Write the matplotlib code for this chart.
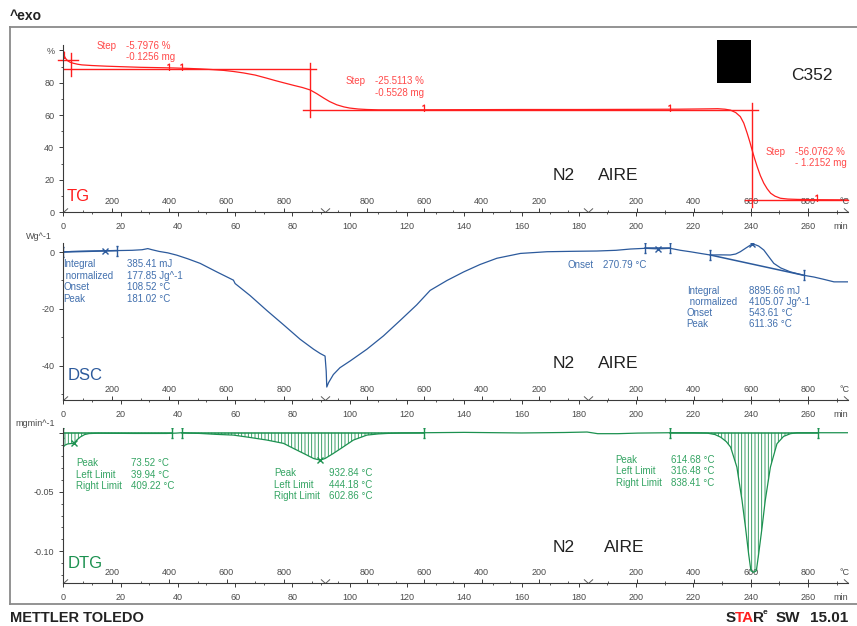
import numpy as np
import matplotlib
matplotlib.use("Agg")
import matplotlib.pyplot as plt
from matplotlib.path import Path
from matplotlib.patches import Rectangle
from matplotlib.lines import Line2D
from matplotlib.ticker import MultipleLocator

plt.rcParams['font.family'] = ['Liberation Sans', 'DejaVu Sans']
plt.rcParams['hatch.linewidth'] = 0.6

# temperature program (segment ends in min, temperatures in °C)
prog_t = [0, 91.5, 183.2, 274]
prog_T = [30, 945, 30, 940]
temp_major = [200, 400, 600, 800]
temp_minor = [100, 300, 500, 700, 900]

# TG curve (%)
tg_t = [0.2, 0.8, 1.5, 2.3, 3.5, 5.0, 6.5, 10.0, 15.0, 20.0, 27.0, 33.0, 38.5, 44.0, 48.0, 52.0,
        56.0, 59.5, 63.0, 67.0, 71.0, 74.0, 77.0, 80.5, 83.5, 86.2, 88.5, 91.0, 93.0, 95.5, 98.0,
        100.0, 103.0, 106.0, 110.0, 120.0, 140.0, 160.0, 180.0, 200.0, 215.0, 225.0, 228.5, 231.0,
        233.0, 234.8, 236.4, 237.6, 238.8, 239.7, 240.5, 241.4, 242.3, 243.4, 244.6, 245.8, 247.0,
        248.5, 250.4, 253.0, 256.3, 263.0, 274.0]
tg_v = [97.0, 95.0, 93.6, 92.7, 92.0, 91.4, 91.0, 90.6, 90.2, 89.9, 89.5, 89.3, 89.1, 88.8, 88.5, 88.1,
        87.6, 86.9, 86.0, 84.7, 82.8, 81.3, 79.9, 78.3, 77.0, 75.5, 73.2, 70.4, 68.3, 66.3, 65.0,
        64.3, 63.7, 63.4, 63.2, 63.2, 63.3, 63.4, 63.4, 63.5, 63.6, 63.8, 63.9, 63.6,
        63.0, 61.5, 59.0, 55.0, 48.7, 43.5, 38.4, 33.0, 28.0, 22.5, 17.8, 14.3, 11.6,
        9.8, 8.5, 8.0, 7.8, 7.6, 7.5]
step_t = [2.8, 86.2, 240.5]
step_lv = [94.0, 88.2, 63.1, 7.4]
step_pct = ['-5.7976 %', '-25.5113 %', '-56.0762 %']
step_mg = ['-0.1256 mg', '-0.5528 mg', '- 1.2152 mg']
tg_flags = [36.9, 41.4, 125.8, 211.7, 263.2]

# DSC curve (W/g)
dsc_t = [0, 3, 8, 13, 18.6, 24, 27.5, 29.5, 31.0, 33.5, 36.5, 39.6, 43.5, 47.8, 53.6, 59.4, 60.0,
         65.2, 71.1, 76.9, 82.7, 87.4, 89.7, 91.4, 91.8, 92.0, 92.6, 94.3, 96.6, 100.2, 106.0,
         111.8, 117.6, 123.4, 128.1, 134.0, 139.8, 145.5, 151.4, 159.6, 168.9, 178.0, 186.3,
         193.0, 198.0, 203.2, 207.6, 211.9, 215.5, 218.9, 222.5, 225.9, 229.5, 232.9, 234.8,
         236.4, 238.5, 240.5, 241.8, 242.8, 244.6, 246.3, 248.1, 250.5, 253.9, 258.6, 262.1,
         265.5, 269.1, 274.0]
dsc_v = [0.0, 0.2, 0.3, 0.4, 0.5, 0.6, 0.8, 1.2, 0.8, 0.2, -0.3, -1.1, -2.4, -4.0, -7.0, -9.9, -11.1,
         -15.3, -20.6, -25.6, -30.7, -34.2, -35.7, -36.6, -41.9, -47.5, -46.0, -43.1, -40.7, -38.3, -34.2,
         -29.5, -24.1, -18.6, -13.5, -10.0, -7.0, -4.4, -2.2, -0.5, 0.1, 0.25, 0.35,
         0.6, 1.05, 1.3, 1.1, 1.3, 0.6, 0.1, -0.5, -1.05, -1.0, -1.05, -0.7,
         0.1, 1.5, 2.8, 2.5, 2.1, 0.7, -1.6, -4.0, -5.6, -7.0, -8.2, -8.8,
         -9.6, -10.5, -10.5]
dsc_limits = [(0, 18.6), (203.2, 211.9), (225.9, 258.6)]
dsc_marks = [14.7, 207.6, 240.5]

# DTG curve (mg/min)
dtg_t = [0, 0.6, 1.5, 2.5, 3.7, 4.8, 6.0, 7.5, 9.0, 12.0, 18.0, 24.5, 30.0, 36.0, 39.5, 41.4, 44.0,
         47.8, 53.6, 59.4, 65.2, 71.1, 76.9, 80.4, 83.9, 87.4, 89.7, 91.4, 94.3, 97.8, 101.3, 106.0,
         110.0, 113.0, 118.0, 125.8, 140.0, 160.0, 175.0, 182.9, 186.6, 193.6, 200.6, 212.0, 220.0,
         224.8, 227.5, 229.5, 231.5, 233.0, 235.2, 237.0, 238.2, 239.3, 240.1, 241.1, 242.0, 242.8,
         244.0, 245.1, 246.9, 249.2, 251.5, 253.9, 256.2, 263.4, 274.0]
dtg_v = [-0.0120, -0.0105, -0.0095, -0.0092, -0.0090, -0.0060, -0.0035, -0.0015, -0.0007, -0.0004,
         -0.0005, -0.0006, -0.0006, -0.0006, -0.0003, 0.0, -0.0003, -0.0006, -0.0014, -0.0020, -0.0040,
         -0.0062, -0.0090, -0.0133, -0.0175, -0.0218, -0.0232, -0.0218, -0.0175, -0.0119, -0.0062,
         -0.0020, -0.0010, -0.0006, -0.0002, 0.0, 0.0003, -0.0002, 0.0002, 0.0006, -0.0008, -0.0008,
         -0.0003, 0.0, 0.0, -0.0003, -0.0015, -0.0037, -0.0075, -0.0121, -0.0291, -0.0573, -0.0799,
         -0.1025, -0.1167, -0.1180, -0.1167, -0.1025, -0.0799, -0.0573, -0.0291, -0.0093, -0.0031,
         -0.0008, 0.0, 0.0, 0.0]
dtg_limits = [(0, 37.8), (41.4, 125.8), (212.0, 263.4)]
dtg_marks = [3.7, 89.7]

RED, RED_T = '#ff1e1e', '#ff4a4a'
BLUE, BLUE_T = '#2c5a9c', '#4270ae'
GREEN, GREEN_T = '#1c9150', '#34a463'
AXC, TXC = '#3a3a3a', '#4a4a4a'

W, H = 857, 626
X0, X1 = 63.3, 848.0
fig = plt.figure(figsize=(W / 100, H / 100), dpi=100)


def ftext(x, y, s, **kw):
    kw.setdefault('va', 'center')
    kw.setdefault('fontsize', 7)
    return fig.text(x / W, 1 - y / H, s, **kw)


def temp_positions(temps):
    out_t, out_T = [], []
    for i in range(len(prog_t) - 1):
        T0, T1 = prog_T[i], prog_T[i + 1]
        for T in temps:
            if min(T0, T1) <= T <= max(T0, T1):
                out_t.append(prog_t[i] + (T - T0) / (T1 - T0) * (prog_t[i + 1] - prog_t[i]))
                out_T.append(T)
    return out_t, out_T


vee = Path([(-1, 0.9), (0, 0), (1, 0.9)], [Path.MOVETO, Path.LINETO, Path.LINETO])
bracket = Path([(-0.3, 1), (0.3, 1), (0, 1), (0, -1), (-0.3, -1), (0.3, -1)],
               [Path.MOVETO, Path.LINETO, Path.MOVETO, Path.LINETO, Path.MOVETO, Path.LINETO])
flag = Path([(0, -1), (0, 1), (-0.6, 0.6)], [Path.MOVETO, Path.LINETO, Path.LINETO])


def make_panel(y_axis, y_top, ylim, yticks, ylabels, yminor):
    ax = fig.add_axes([X0 / W, 1 - y_axis / H, (X1 - X0) / W, (y_axis - y_top) / H])
    ax.set_xlim(0, 274)
    ax.set_ylim(*ylim)
    ax.patch.set_visible(False)
    for s in ['top', 'right']:
        ax.spines[s].set_visible(False)
    for s in ['left', 'bottom']:
        ax.spines[s].set_color(AXC)
        ax.spines[s].set_linewidth(0.8)
    ax.set_xticks(np.arange(0, 261, 20))
    ax.xaxis.set_minor_locator(MultipleLocator(10))
    ax.set_yticks(yticks, labels=ylabels)
    ax.yaxis.set_minor_locator(MultipleLocator(yminor))
    ax.tick_params(which='major', length=3, width=0.7, color=AXC, labelcolor=TXC, labelsize=6.5)
    ax.tick_params(which='minor', length=1.6, width=0.6, color=AXC)
    ax.tick_params(axis='x', pad=4.5)
    ax.tick_params(axis='y', pad=3.5)
    # temperature scale drawn on the same axis line
    sec = ax.secondary_xaxis('bottom')
    mt, mT = temp_positions(temp_major)
    nt, _ = temp_positions(temp_minor)
    sec.set_xticks(mt, labels=[str(T) for T in mT])
    sec.set_xticks(nt, minor=True)
    sec.spines['bottom'].set_visible(False)
    sec.tick_params(which='major', direction='in', length=3, width=0.7, color=AXC,
                    labelcolor=TXC, labelsize=6.5, pad=-10.5)
    sec.tick_params(which='minor', direction='in', length=1.6, width=0.6, color=AXC)
    # segment marks of the temperature program
    ax.plot(prog_t, [0] * len(prog_t), ls='none', marker=vee, ms=6.5, mew=0.7, mfc='none',
            color='#5a5a5a', transform=ax.get_xaxis_transform())
    ftext(845, y_axis - 10.5, '°C', ha='center', fontsize=6.5, color=TXC)
    ftext(841, y_axis + 14.5, 'min', ha='center', fontsize=6.5, color=TXC)
    return ax


# ---------------- TG ----------------
ax1 = make_panel(212.0, 45.0, (0, 103.3), [0, 20, 40, 60, 80, 100],
                 ['0', '20', '40', '60', '80', '%'], 10)
ax1.plot(tg_t, tg_v, color=RED, lw=0.9)
for i, lv in enumerate(step_lv):
    a = step_t[0] - 4.6 if i == 0 else step_t[i - 1] - 2.5
    b = 274 if i == len(step_t) else step_t[i] + 2.2
    ax1.plot([a, b], [lv, lv], color=RED, lw=1.0, clip_on=False)
for i, st in enumerate(step_t):
    ax1.plot([st, st], [step_lv[i] + 4.2, step_lv[i + 1] - 4.2], color=RED, lw=1.0, clip_on=False)
ax1.plot(tg_flags, np.interp(tg_flags, tg_t, tg_v) + 0.8, ls='none', marker=flag, ms=5,
         mew=0.9, mfc='none', color=RED)
ax1.plot([0.4], [97.0], ls='none', marker=flag, ms=5, mew=0.9, mfc='none', color=RED)

step_xy = [(97, 46), (346, 81), (766, 152)]
for (x, y), p, m in zip(step_xy, step_pct, step_mg):
    ftext(x, y, 'Step', color=RED_T)
    ftext(x + 29, y, p, color=RED_T)
    ftext(x + 29, y + 11.5, m, color=RED_T)

# ---------------- DSC ----------------
ax2 = make_panel(400.0, 243.0, (-52.06, 3.17), [0, -20, -40], ['0', '-20', '-40'], 10)
ax2.plot(dsc_t, dsc_v, color=BLUE, lw=0.9)
for a, b in dsc_limits:
    ya, yb = np.interp([a, b], dsc_t, dsc_v)
    ax2.plot([a, b], [ya, yb], color=BLUE, lw=1.1)
    ax2.plot([a, b], [ya, yb], ls='none', marker=bracket, ms=7, mew=1.0, mfc='none', color=BLUE)
ax2.plot(dsc_marks, np.interp(dsc_marks, dsc_t, dsc_v), ls='none', marker='x', ms=4,
         mew=1.0, color=BLUE)

for i, (lab, val) in enumerate([('Integral', '385.41 mJ'), (' normalized', '177.85 Jg^-1'),
                                ('Onset', '108.52 °C'), ('Peak', '181.02 °C')]):
    ftext(63.3, 264 + 11.6 * i, lab, color=BLUE_T)
    ftext(126.7, 264 + 11.6 * i, val, color=BLUE_T)
ftext(567.7, 265, 'Onset', color=BLUE_T)
ftext(602.7, 265, '270.79 °C', color=BLUE_T)
for i, (lab, val) in enumerate([('Integral', '8895.66 mJ'), (' normalized', '4105.07 Jg^-1'),
                                ('Onset', '543.61 °C'), ('Peak', '611.36 °C')]):
    ftext(686.7, 290.7 + 11.1 * i, lab, color=BLUE_T)
    ftext(749.3, 290.7 + 11.1 * i, val, color=BLUE_T)

# ---------------- DTG ----------------
ax3 = make_panel(582.7, 428.0, (-0.1268, 0.004), [0, -0.05, -0.10], ['', '-0.05', '-0.10'], 0.01)
t3 = np.array(dtg_t)
v3 = np.array(dtg_v)
for a, b in dtg_limits:
    m = (t3 >= a) & (t3 <= b)
    ax3.fill_between(t3[m], v3[m], 0, facecolor='none', edgecolor=GREEN, hatch='|||||', linewidth=0)
    ax3.plot([a, b], [0, 0], color=GREEN, lw=1.1)
    ax3.plot([a, b], [0, 0], ls='none', marker=bracket, ms=7, mew=1.0, mfc='none', color=GREEN)
ax3.plot(t3, v3, color=GREEN, lw=0.9)
ax3.plot(dtg_marks, np.interp(dtg_marks, dtg_t, dtg_v), ls='none', marker='x', ms=4,
         mew=1.0, color=GREEN)

dtg_blocks = [((76.3, 131.0, 463.3), ('73.52 °C', '39.94 °C', '409.22 °C')),
              ((274.0, 329.3, 473.3), ('932.84 °C', '444.18 °C', '602.86 °C')),
              ((615.7, 670.7, 460.0), ('614.68 °C', '316.48 °C', '838.41 °C'))]
for (xl, xv, y0), vals in dtg_blocks:
    for i, (lab, val) in enumerate(zip(['Peak', 'Left Limit', 'Right Limit'], vals)):
        ftext(xl, y0 + 11.3 * i, lab, color=GREEN_T)
        ftext(xv, y0 + 11.3 * i, val, color=GREEN_T)

# unit and panel labels
ftext(52, 236.5, 'Wg^-1', ha='right', fontsize=6.5, color=TXC)
ftext(55, 423.3, 'mgmin^-1', ha='right', fontsize=6.5, color=TXC)
ftext(67, 196, 'TG', fontsize=12, color=RED)
ftext(68, 375, 'DSC', fontsize=12, color=BLUE)
ftext(68, 563, 'DTG', fontsize=12, color=GREEN)
for y in (176, 364, 548):
    ftext(553, y, 'N2', fontsize=12.5, color='#222222')
ftext(598, 176, 'AIRE', fontsize=12.5, color='#222222')
ftext(598, 364, 'AIRE', fontsize=12.5, color='#222222')
ftext(604, 548, 'AIRE', fontsize=12.5, color='#222222')
ftext(791, 76, 'C352', fontsize=12.5, color='#222222')
fig.add_artist(Rectangle((717 / W, 1 - 83 / H), 34 / W, 43 / H, transform=fig.transFigure,
                         facecolor='black', edgecolor='none'))

# frame and captions
for xs, ys in [((10, 857), (27, 27)), ((10, 10), (27, 604)), ((10, 857), (604, 604))]:
    fig.add_artist(Line2D([x / W for x in xs], [1 - y / H for y in ys], color='#8a8a8a', lw=1.3))
ftext(10, 16, '^exo', fontsize=10, fontweight='bold', color='#222222')
ftext(10, 618, 'METTLER TOLEDO', fontsize=10.5, fontweight='bold', color='#222222')
ftext(726, 618, 'S', fontsize=11, fontweight='bold', color='#222222')
ftext(734.5, 618, 'TA', fontsize=11, fontweight='bold', color='#ff2020')
ftext(752.5, 618, 'R', fontsize=11, fontweight='bold', color='#222222')
ftext(762.5, 613, 'e', fontsize=6, fontweight='bold', color='#222222')
ftext(776, 618, 'SW', fontsize=11, fontweight='bold', color='#222222')
ftext(810, 618, '15.01', fontsize=11, fontweight='bold', color='#222222')

fig.savefig('out.png', dpi=100)
